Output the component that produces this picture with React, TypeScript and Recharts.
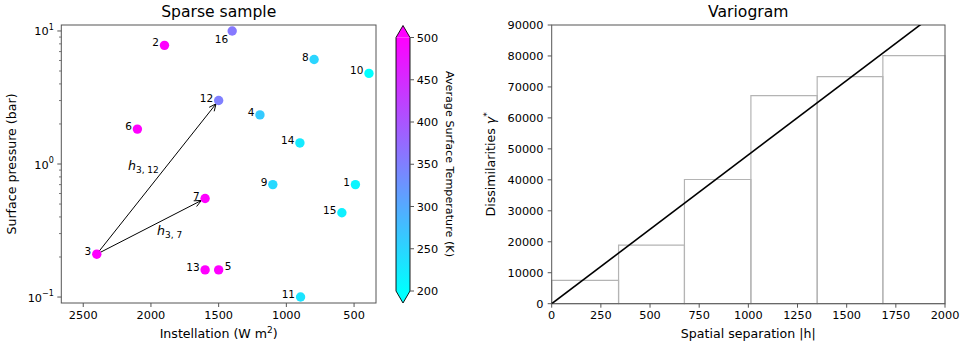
import React from "react";
import {
  ComposedChart,
  Line,
  ReferenceArea,
  ReferenceDot,
  ReferenceLine,
  Scatter,
  XAxis,
  YAxis,
} from "recharts";

const FONT = "'DejaVu Sans', sans-serif";
const SPINE = "#555";
const BIN_STROKE = "#b4b4b4";

// sparse sample (left panel)
const SAMPLE_IDS = [1, 2, 3, 4, 5, 6, 7, 8, 9, 10, 11, 12, 13, 14, 15, 16];
const INSTELLATION = [490, 1900, 2400, 1195, 1500, 2100, 1600, 795, 1100, 390, 895, 1500, 1600, 900, 590, 1400];
const PRESSURE = [0.7, 7.8, 0.21, 2.34, 0.16, 1.83, 0.55, 6.1, 0.7, 4.8, 0.1, 3.0, 0.16, 1.44, 0.43, 10];
const TEMPERATURE = [212, 505, 510, 262, 505, 505, 505, 250, 245, 200, 232, 350, 505, 225, 218, 358];

const INST_DOMAIN = [338, 2662];
const PRES_DOMAIN = [0.0902, 11.09];
const INST_TICKS = [2500, 2000, 1500, 1000, 500];
const PRES_TICKS = [
  0.1, 0.2, 0.3, 0.4, 0.5, 0.6, 0.7, 0.8, 0.9,
  1, 2, 3, 4, 5, 6, 7, 8, 9, 10,
];
const COLOR_TICKS = [200, 250, 300, 350, 400, 450, 500];

// ids whose number sits right of / below the dot instead of upper-left
const LABEL_RIGHT = [5];
const LABEL_BELOW = [16];

// pair vectors drawn as arrows: [from id, to id]
const PAIRS: [number, number][] = [[3, 12], [3, 7]];
const PAIR_LABEL_X = [2170, 1955];
const PAIR_LABEL_Y = [0.905, 0.295];

// variogram (right panel)
const H_DOMAIN = [0, 2000];
const GAMMA_DOMAIN = [0, 90000];
const BIN_EDGES = [0, 340, 675, 1013, 1350, 1684, 2000];
const BIN_GAMMA = [7550, 18900, 40100, 67200, 73300, 80100];
const MODEL_H = [0, 2000];
const MODEL_GAMMA = [0, 96100];
const H_TICKS = [0, 250, 500, 750, 1000, 1250, 1500, 1750, 2000];
const GAMMA_TICKS = [0, 10000, 20000, 30000, 40000, 50000, 60000, 70000, 80000, 90000];

// matplotlib "cool" colormap, 200–500 K
function cool(t: number) {
  const f = Math.min(1, Math.max(0, (t - 200) / 300));
  return `rgb(${Math.round(255 * f)},${Math.round(255 * (1 - f))},255)`;
}

const samples = SAMPLE_IDS.map((id, i) => ({
  id,
  x: INSTELLATION[i],
  y: PRESSURE[i],
  temp: TEMPERATURE[i],
}));
const byId = (id: number) => samples[SAMPLE_IDS.indexOf(id)];

const modelLine = MODEL_H.map((h, i) => ({ h, g: MODEL_GAMMA[i] }));
const cbarData = COLOR_TICKS.map(t => ({ c: 0, t }));

function SampleDot(props: any) {
  const { cx, cy, payload } = props;
  if (cx == null || cy == null) return null;
  let tx = cx - 5.5;
  let ty = cy + 1;
  let anchor: "end" | "start" = "end";
  if (LABEL_RIGHT.includes(payload.id)) {
    tx = cx + 6;
    ty = cy;
    anchor = "start";
  } else if (LABEL_BELOW.includes(payload.id)) {
    tx = cx - 4;
    ty = cy + 12;
  }
  return (
    <g>
      <circle cx={cx} cy={cy} r={4.7} fill={cool(payload.temp)} />
      <text x={tx} y={ty} textAnchor={anchor} fontSize={10.5} fontFamily={FONT} fill="#000">
        {payload.id}
      </text>
    </g>
  );
}

function LogTick(props: any) {
  const { x, y, payload } = props;
  const v = payload.value as number;
  const lg = Math.log10(v);
  const exp = Math.round(lg);
  const major = Math.abs(lg - exp) < 1e-6;
  return (
    <g>
      <line x1={x - (major ? 4 : 2.3)} x2={x} y1={y} y2={y} stroke={SPINE} strokeWidth={major ? 1 : 0.8} />
      {major ? (
        <text x={x - 7.5} y={y} textAnchor="end" fontSize={11.3} fontFamily={FONT} fill="#000">
          <tspan dy={4.5}>10</tspan>
          <tspan dy={-5.5} fontSize={8}>{exp < 0 ? `\u2212${-exp}` : `${exp}`}</tspan>
        </text>
      ) : null}
    </g>
  );
}

function Arrow(props: any) {
  const { x1, y1, x2, y2 } = props;
  if ([x1, y1, x2, y2].some(v => v == null || Number.isNaN(v))) return null;
  const dx = x2 - x1;
  const dy = y2 - y1;
  const len = Math.hypot(dx, dy);
  const ux = dx / len;
  const uy = dy / len;
  const ex = x2 - ux * 4.2;
  const ey = y2 - uy * 4.2;
  const hl = 7;
  const hw = 3.2;
  const bx = ex - ux * hl;
  const by = ey - uy * hl;
  return (
    <g>
      <line x1={x1} y1={y1} x2={ex} y2={ey} stroke="#000" strokeWidth={1} />
      <polyline
        points={`${bx - uy * hw},${by + ux * hw} ${ex},${ey} ${bx + uy * hw},${by - ux * hw}`}
        fill="none"
        stroke="#000"
        strokeWidth={1}
      />
    </g>
  );
}

function PairLabel(sub: string) {
  return (props: any) => {
    const { cx, cy } = props;
    if (cx == null || cy == null) return null;
    return (
      <text x={cx} y={cy} fontSize={12.6} fontFamily={FONT} fill="#000">
        <tspan fontStyle="italic">h</tspan>
        <tspan dy={3} fontSize={9}>{sub}</tspan>
      </text>
    );
  };
}

function Frame(props: any) {
  const { x, y, width, height } = props;
  if (x == null) return null;
  return <rect x={x} y={y} width={width} height={height} fill="none" stroke={SPINE} strokeWidth={1} />;
}

function ColorBar(props: any) {
  const { x, y, width: w, height: h } = props;
  if (x == null) return null;
  const ext = 12;
  return (
    <g>
      <defs>
        <linearGradient id="coolGrad" x1="0" y1="1" x2="0" y2="0">
          <stop offset="0%" stopColor={cool(200)} />
          <stop offset="100%" stopColor={cool(500)} />
        </linearGradient>
      </defs>
      <rect x={x} y={y} width={w} height={h} fill="url(#coolGrad)" />
      <polygon points={`${x},${y} ${x + w},${y} ${x + w / 2},${y - ext}`} fill={cool(500)} />
      <polygon points={`${x},${y + h} ${x + w},${y + h} ${x + w / 2},${y + h + ext}`} fill={cool(200)} />
      <path
        d={`M${x},${y} L${x + w / 2},${y - ext} L${x + w},${y} L${x + w},${y + h} L${x + w / 2},${y + h + ext} L${x},${y + h} Z`}
        fill="none"
        stroke="#000"
        strokeWidth={0.9}
      />
    </g>
  );
}

const tickStyle = { fontSize: 11.3, fontFamily: FONT, fill: "#000" };

export default function App() {
  return (
    <div style={{ position: "fixed", left: 0, top: 0, width: 969, height: 349, background: "#fff" }}>
      {/* left: sparse sample */}
      <div style={{ position: "absolute", left: 0, top: 0 }}>
        <ComposedChart width={390} height={349} data={samples} margin={{ top: 25, right: 14, bottom: 0, left: 0 }}>
          <XAxis
            dataKey="x"
            type="number"
            domain={INST_DOMAIN}
            reversed
            allowDataOverflow
            ticks={INST_TICKS}
            height={46}
            axisLine={false}
            tickSize={4}
            tickMargin={3.5}
            tickLine={{ stroke: SPINE }}
            tick={tickStyle}
          />
          <YAxis
            dataKey="y"
            type="number"
            scale="log"
            domain={PRES_DOMAIN}
            allowDataOverflow
            ticks={PRES_TICKS}
            width={61.3}
            axisLine={false}
            tickLine={false}
            tickSize={0}
            tickMargin={0}
            tick={<LogTick />}
            interval={0}
          />
          {PAIRS.map(([a, b]) => (
            <ReferenceLine
              key={`${a}-${b}`}
              segment={[
                { x: byId(a).x, y: byId(a).y },
                { x: byId(b).x, y: byId(b).y },
              ]}
              ifOverflow="visible"
              shape={<Arrow />}
            />
          ))}
          {PAIRS.map(([a, b], i) => (
            <ReferenceDot
              key={`lbl-${a}-${b}`}
              x={PAIR_LABEL_X[i]}
              y={PAIR_LABEL_Y[i]}
              ifOverflow="visible"
              shape={PairLabel(`${a}, ${b}`)}
            />
          ))}
          <Scatter dataKey="y" isAnimationActive={false} shape={<SampleDot />} />
          <ReferenceArea
            x1={INST_DOMAIN[0]}
            x2={INST_DOMAIN[1]}
            y1={PRES_DOMAIN[0]}
            y2={PRES_DOMAIN[1]}
            ifOverflow="visible"
            shape={<Frame />}
          />
        </ComposedChart>
      </div>

      {/* colour bar */}
      <div style={{ position: "absolute", left: 380, top: 0 }}>
        <ComposedChart width={90} height={349} data={cbarData} margin={{ top: 37.5, right: 0, bottom: 58, left: 16 }}>
          <XAxis dataKey="c" type="number" domain={[0, 1]} hide />
          <YAxis
            dataKey="t"
            type="number"
            orientation="right"
            domain={[200, 500]}
            ticks={COLOR_TICKS}
            width={60}
            axisLine={false}
            tickSize={4}
            tickMargin={2.7}
            tickLine={{ stroke: SPINE }}
            tick={tickStyle}
            interval={0}
          />
          <ReferenceArea x1={0} x2={1} y1={200} y2={500} ifOverflow="visible" shape={<ColorBar />} />
        </ComposedChart>
      </div>

      {/* right: variogram */}
      <div style={{ position: "absolute", left: 490, top: 0 }}>
        <ComposedChart width={479} height={349} data={modelLine} margin={{ top: 25, right: 24, bottom: 0, left: 0 }}>
          <XAxis
            dataKey="h"
            type="number"
            domain={H_DOMAIN}
            ticks={H_TICKS}
            height={45.3}
            axisLine={false}
            tickSize={4}
            tickMargin={3.5}
            tickLine={{ stroke: SPINE }}
            tick={tickStyle}
            interval={0}
          />
          <YAxis
            type="number"
            domain={GAMMA_DOMAIN}
            allowDataOverflow
            ticks={GAMMA_TICKS}
            width={61.7}
            axisLine={false}
            tickSize={4}
            tickMargin={4.2}
            tickLine={{ stroke: SPINE }}
            tick={tickStyle}
            interval={0}
          />
          {BIN_GAMMA.map((g, i) => (
            <ReferenceArea
              key={i}
              x1={BIN_EDGES[i]}
              x2={BIN_EDGES[i + 1]}
              y1={0}
              y2={g}
              fill="none"
              fillOpacity={0}
              stroke={BIN_STROKE}
              strokeWidth={1.2}
              strokeOpacity={1}
              ifOverflow="visible"
            />
          ))}
          <Line dataKey="g" type="linear" stroke="#000" strokeWidth={1.6} dot={false} isAnimationActive={false} />
          <ReferenceArea
            x1={H_DOMAIN[0]}
            x2={H_DOMAIN[1]}
            y1={GAMMA_DOMAIN[0]}
            y2={GAMMA_DOMAIN[1]}
            ifOverflow="visible"
            shape={<Frame />}
          />
        </ComposedChart>
      </div>

      {/* titles and axis labels */}
      <svg
        width={969}
        height={349}
        style={{ position: "absolute", left: 0, top: 0, pointerEvents: "none" }}
        fontFamily={FONT}
      >
        <text x={218.7} y={16.5} textAnchor="middle" fontSize={15.6}>Sparse sample</text>
        <text x={748.3} y={16.5} textAnchor="middle" fontSize={15.6}>Variogram</text>
        <text x={218.7} y={337.5} textAnchor="middle" fontSize={12.6}>
          Instellation (W m<tspan dy={-5} fontSize={9}>2</tspan>
          <tspan dy={5}>)</tspan>
        </text>
        <text x={748.3} y={337.5} textAnchor="middle" fontSize={12.6}>Spatial separation |h|</text>
        <text x={15.5} y={164} textAnchor="middle" fontSize={12.6} transform="rotate(-90 15.5 164)">
          Surface pressure (bar)
        </text>
        <text x={495.5} y={164.4} textAnchor="middle" fontSize={12.6} transform="rotate(-90 495.5 164.4)">
          Dissimilarities <tspan fontStyle="italic">γ</tspan>
          <tspan dy={-5} fontSize={9}>*</tspan>
        </text>
        <text x={446} y={164} textAnchor="middle" fontSize={11.2} transform="rotate(90 446 164)">
          Average Surface Temperature (K)
        </text>
      </svg>
    </div>
  );
}
